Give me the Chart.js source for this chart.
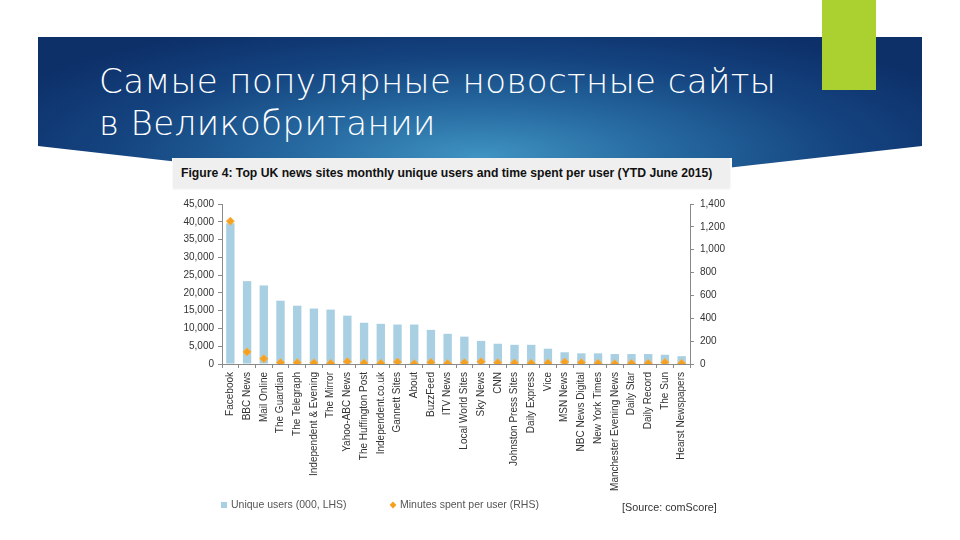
<!DOCTYPE html>
<html>
<head>
<meta charset="utf-8">
<script src="https://cdn.jsdelivr.net/npm/chart.js@4.4.0/dist/chart.umd.min.js"></script>
<style>
  html, body { margin: 0; padding: 0; background: #fff; }
  #slide { position: relative; width: 960px; height: 540px; overflow: hidden; background: #fff; }
  #banner {
    position: absolute; left: 38px; top: 37px; width: 884px; height: 160px;
    clip-path: polygon(0 0, 100% 0, 100% 109px, 442px 159px, 0 109px);
    background: radial-gradient(ellipse 60% 90% at 50% 75%, #3f93c2 0%, #2669a0 35%, #14437f 70%, #0d3069 100%);
  }
  #green { position: absolute; left: 822px; top: 0; width: 54px; height: 90px; background: #aad12f; }
  #title {
    position: absolute; left: 99px; top: 60px; color: #fff;
    font-family: 'DejaVu Sans', sans-serif; font-weight: 200; font-size: 34px; line-height: 42px;
    letter-spacing: 0.4px; white-space: nowrap;
  }
  #figure { position: absolute; left: 172px; top: 158px; width: 560px; height: 362px; background: #fff; }
  #figtitle {
    position: absolute; left: 1px; top: 0; width: 557px; height: 30px; background: #efefef;
    box-shadow: 0 1px 2px rgba(0,0,0,0.08); white-space: nowrap;
    font-family: 'Liberation Sans', sans-serif; font-weight: bold; font-size: 12.2px;
    line-height: 30px; color: #111; padding-left: 8px; box-sizing: border-box;
  }
  #wrap { position: absolute; left: 0; top: 32px; width: 560px; height: 320px; }
  .leg { position: absolute; top: 340px; font-family: 'Liberation Sans', sans-serif; font-size: 10.5px; color: #555; }
  .sw { display: inline-block; width: 6px; height: 6px; margin-right: 4px; vertical-align: 0; }
  #source { position: absolute; left: 450px; top: 343px; font-family: 'Liberation Sans', sans-serif; font-size: 10.8px; color: #333; }
</style>
</head>
<body>
<div id="slide">
  <div id="banner"></div>
  <div id="green"></div>
  <div id="title">Самые популярные новостные сайты<br>в Великобритании</div>
  <div id="figure">
    <div id="figtitle">Figure 4: Top UK news sites monthly unique users and time spent per user (YTD June 2015)</div>
    <div id="wrap"><canvas id="chart" width="560" height="320"></canvas></div>
    <div class="leg" style="left:49px"><span class="sw" style="background:#a9cfe2"></span>Unique users (000, LHS)</div>
    <div class="leg" style="left:218px"><span class="sw" style="background:#f5a01e;transform:rotate(45deg) scale(0.8)"></span>Minutes spent per user (RHS)</div>
    <div id="source">[Source: comScore]</div>
  </div>
</div>
<script>
const sites = ['Facebook', 'BBC News', 'Mail Online', 'The Guardian', 'The Telegraph',
  'Independent & Evening', 'The Mirror', 'Yahoo-ABC News', 'The Huffington Post', 'Independent.co.uk',
  'Gannett Sites', 'About', 'BuzzFeed', 'ITV News', 'Local World Sites', 'Sky News', 'CNN',
  'Johnston Press Sites', 'Daily Express', 'Vice', 'MSN News', 'NBC News Digital', 'New York Times',
  'Manchester Evening News', 'Daily Star', 'Daily Record', 'The Sun', 'Hearst Newspapers'];

// unique users, thousands (left axis)
const uniqueUsers = [39600, 23300, 22100, 17800, 16400, 15600, 15300, 13600, 11600, 11300,
  11100, 11100, 9600, 8500, 7700, 6500, 5700, 5400, 5400, 4300,
  3300, 3000, 3000, 2800, 2800, 2800, 2600, 2200];

// minutes spent per user (right axis)
const minutesPerUser = [1250, 106, 47, 12, 12, 10, 6, 20, 9, 6,
  17, 3, 14, 4, 12, 20, 12, 9, 6, 9,
  17, 12, 6, 3, 6, 6, 14, 6];

const leftTicks = [0, 5000, 10000, 15000, 20000, 25000, 30000, 35000, 40000, 45000];
const rightTicks = [0, 200, 400, 600, 800, 1000, 1200, 1400];

const tickFont = { family: 'Liberation Sans', size: 10 };
const axisGray = '#8a8a8a';
const fmt = v => Number(v).toLocaleString('en-US');

new Chart(document.getElementById('chart'), {
  data: {
    labels: sites,
    datasets: [
      {
        type: 'scatter',
        label: 'Minutes spent per user (RHS)',
        data: minutesPerUser,
        yAxisID: 'y2',
        showLine: false,
        pointStyle: 'rectRot',
        pointRadius: 4,
        backgroundColor: '#f5a01e',
        borderColor: '#f7b048',
        borderWidth: 1,
        order: 0
      },
      {
        type: 'bar',
        label: 'Unique users (000, LHS)',
        data: uniqueUsers,
        yAxisID: 'y',
        backgroundColor: '#a9cfe2',
        barPercentage: 0.5,
        categoryPercentage: 1,
        order: 1
      }
    ]
  },
  options: {
    responsive: false,
    animation: false,
    layout: { padding: { top: 14, left: 0, right: 0, bottom: 0 } },
    plugins: { legend: { display: false }, tooltip: { enabled: false } },
    scales: {
      x: {
        type: 'category',
        offset: true,
        grid: { offset: true, drawOnChartArea: false, tickLength: 4, color: axisGray },
        border: { color: axisGray },
        ticks: { font: tickFont, color: '#333', maxRotation: 90, minRotation: 90, autoSkip: false, padding: 4 },
        afterFit: s => { s.height = 146; }
      },
      y: {
        position: 'left',
        min: 0, max: 45000,
        afterBuildTicks: s => { s.ticks = leftTicks.map(v => ({ value: v })); },
        grid: { drawOnChartArea: false, tickLength: 4, color: axisGray },
        border: { color: axisGray },
        ticks: { font: tickFont, color: '#333', padding: 4, callback: v => fmt(v) },
        afterFit: s => { s.width = 50; }
      },
      y2: {
        position: 'right',
        min: 0, max: 1400,
        afterBuildTicks: s => { s.ticks = rightTicks.map(v => ({ value: v })); },
        grid: { drawOnChartArea: false, tickLength: 4, color: axisGray },
        border: { color: axisGray },
        ticks: { font: tickFont, color: '#333', padding: 6, callback: v => fmt(v) },
        afterFit: s => { s.width = 42; }
      }
    }
  }
});
</script>
</body>
</html>
